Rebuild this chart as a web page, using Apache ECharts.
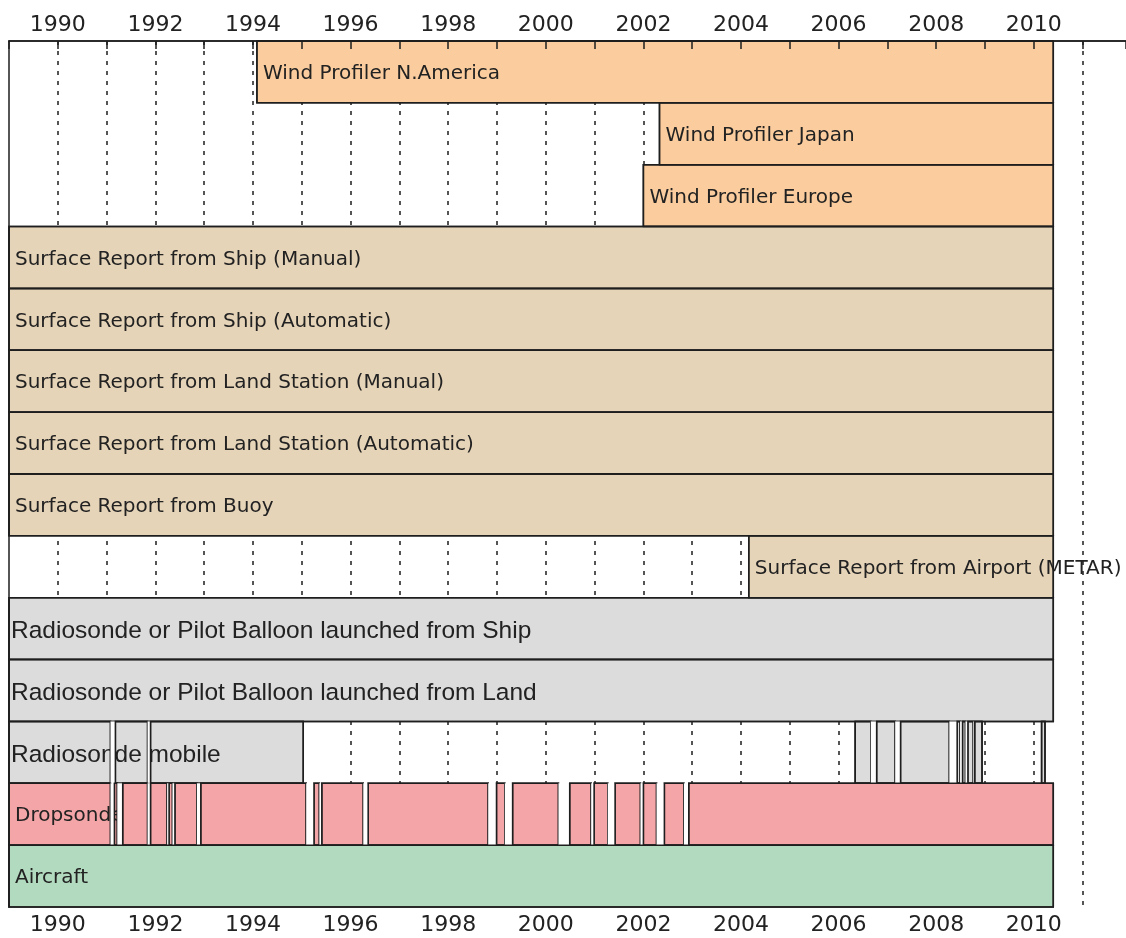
<!DOCTYPE html>
<html>
<head>
<meta charset="utf-8">
<script src="https://cdn.jsdelivr.net/npm/echarts@6/dist/echarts.min.js"></script>
<style>
  html, body { margin: 0; padding: 0; background: #fff; overflow: hidden; }
  #chart { width: 1126px; height: 938px; }
</style>
</head>
<body>
<div id="chart"></div>
<script>
// rows from top to bottom
const rowNames = [
  'Wind Profiler N.America',
  'Wind Profiler Japan',
  'Wind Profiler Europe',
  'Surface Report from Ship (Manual)',
  'Surface Report from Ship (Automatic)',
  'Surface Report from Land Station (Manual)',
  'Surface Report from Land Station (Automatic)',
  'Surface Report from Buoy',
  'Surface Report from Airport (METAR)',
  'Radiosonde or Pilot Balloon launched from Ship',
  'Radiosonde or Pilot Balloon launched from Land',
  'Radiosonde mobile',
  'Dropsonde',
  'Aircraft'
]
const rowGroups = [
  'wind', 'wind', 'wind',
  'surface', 'surface', 'surface', 'surface', 'surface', 'surface',
  'radiosonde', 'radiosonde', 'radiosonde',
  'dropsonde', 'aircraft'
]
// single span rows: start year, all end at dataEnd
const rowStarts = [1994.08, 2002.33, 2002.0, 1989, 1989, 1989, 1989, 1989, 2004.16, 1989, 1989, null, null, 1989]
const dataEnd = 2010.40

const mobileSegments = [
  [1989, 1991.08], [1991.18, 1991.84], [1991.90, 1995.03],
  [2006.34, 2006.66], [2006.78, 2007.16], [2007.27, 2008.27],
  [2008.43, 2008.49], [2008.54, 2008.60], [2008.65, 2008.76], [2008.79, 2008.94],
  [2010.16, 2010.23]
]
const dropsondeSegments = [
  [1989, 1991.08], [1991.16, 1991.22], [1991.33, 1991.84], [1991.90, 1992.24],
  [1992.28, 1992.35], [1992.40, 1992.85], [1992.93, 1995.09], [1995.25, 1995.36],
  [1995.41, 1996.26], [1996.36, 1998.82], [1998.99, 1999.16], [1999.32, 2000.26],
  [2000.49, 2000.93], [2000.99, 2001.27], [2001.42, 2001.94], [2002.0, 2002.27],
  [2002.43, 2002.83], [2002.93, 2010.40]
]

const xMin = 1989
const xMax = 2011.89

const groupColors = {
  wind: '#fbcd9e',
  surface: '#e6d4b8',
  radiosonde: '#dcdcdc',
  dropsonde: '#f4a5a7',
  aircraft: '#b2dabf'
}
const edgeColor = '#1e1e1e'

function rowSegments(i) {
  if (i === 11) return mobileSegments
  if (i === 12) return dropsondeSegments
  return [[rowStarts[i], dataEnd]]
}

const barData = []
const labelData = []
const overlayData = []
rowNames.forEach((name, i) => {
  const segs = rowSegments(i)
  segs.forEach((s, k) => {
    barData.push([i, s[0], s[1]])
    overlayData.push([i, s[0], s[1], 1])
    const next = segs[k + 1]
    if (next && next[0] - s[1] < 0.5) {
      overlayData.push([i, s[1], next[0], 0])
    }
  })
  labelData.push([i, segs[0][0]])
})

function rectOf(api, row, s, e) {
  const p0 = api.coord([s, row])
  const p1 = api.coord([e, row + 1])
  return { x: p0[0], y: p0[1], width: p1[0] - p0[0], height: p1[1] - p0[1] }
}

function renderBar(params, api) {
  const row = api.value(0)
  return {
    type: 'rect',
    shape: rectOf(api, row, api.value(1), api.value(2)),
    style: { fill: groupColors[rowGroups[row]], stroke: edgeColor, lineWidth: 1.5 }
  }
}

function renderLabel(params, api) {
  const row = api.value(0)
  const p = api.coord([api.value(1), row + 0.5])
  const big = rowGroups[row] === 'radiosonde'
  return {
    type: 'text',
    style: {
      text: rowNames[row],
      x: p[0] + (big ? 2 : 6),
      y: p[1] + (big ? 3 : 2),
      fill: '#222',
      fontSize: big ? 24.5 : 20,
      fontFamily: big ? '"Liberation Sans", Arial, sans-serif' : '"DejaVu Sans", sans-serif',
      align: 'left',
      verticalAlign: 'middle'
    }
  }
}

function renderOverlay(params, api) {
  const row = api.value(0)
  const shape = rectOf(api, row, api.value(1), api.value(2))
  if (api.value(3) === 0) {
    return { type: 'rect', shape: shape, style: { fill: '#fff' } }
  }
  return { type: 'rect', shape: shape, style: { fill: null, stroke: edgeColor, lineWidth: 1.5 } }
}

function yearLabel(v) {
  const r = Math.round(v)
  if (Math.abs(v - r) > 1e-6 || r % 2 !== 0) return ''
  return String(r)
}

const axisText = { fontSize: 22, color: '#222', fontFamily: '"DejaVu Sans", sans-serif' }

const chart = echarts.init(document.getElementById('chart'), null, { renderer: 'canvas' })
chart.setOption({
  animation: false,
  backgroundColor: '#fff',
  grid: { left: 9, right: 0, top: 41, bottom: 31, containLabel: false, outerBoundsMode: 'none' },
  xAxis: [
    {
      type: 'value', min: xMin, max: xMax, interval: 1, position: 'bottom', z: 10,
      axisLine: { show: true, lineStyle: { color: edgeColor, width: 1.5 } },
      axisTick: { show: false },
      axisLabel: Object.assign({ formatter: yearLabel, margin: 7 }, axisText),
      splitLine: { show: false }
    },
    {
      type: 'value', min: xMin, max: xMax, interval: 1, position: 'top', z: 10,
      axisLine: { show: true, lineStyle: { color: edgeColor, width: 1.5 } },
      axisTick: { show: true, inside: true, length: 8, lineStyle: { color: edgeColor, width: 1.5 } },
      axisLabel: Object.assign({ formatter: yearLabel, margin: 5 }, axisText),
      splitLine: { show: false }
    },
    {
      type: 'value', min: xMin, max: xMax, interval: 1, z: 0,
      axisLine: { show: false },
      axisTick: { show: false },
      axisLabel: { show: false },
      splitLine: {
        show: true, showMinLine: false, showMaxLine: false,
        lineStyle: { color: edgeColor, width: 1.5, type: [4, 6] }
      }
    }
  ],
  yAxis: [{
    type: 'value', min: 0, max: rowNames.length, inverse: true, z: 10,
    axisLine: { show: true, lineStyle: { color: edgeColor, width: 1.5 } },
    axisTick: { show: false },
    axisLabel: { show: false },
    splitLine: { show: false }
  }],
  series: [
    {
      type: 'custom', name: 'bars', z: 2, xAxisIndex: 0, yAxisIndex: 0,
      renderItem: renderBar, encode: { x: [1, 2], y: 0 }, data: barData
    },
    {
      type: 'custom', name: 'labels', z: 3, clip: false, xAxisIndex: 0, yAxisIndex: 0,
      renderItem: renderLabel, encode: { x: 1, y: 0 }, data: labelData
    },
    {
      type: 'custom', name: 'overlay', z: 4, xAxisIndex: 0, yAxisIndex: 0,
      renderItem: renderOverlay, encode: { x: [1, 2], y: 0 }, data: overlayData
    }
  ]
})
</script>
</body>
</html>
